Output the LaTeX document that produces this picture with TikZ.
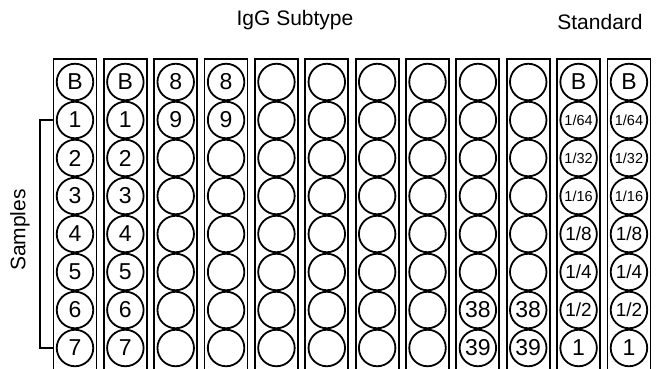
\documentclass[tikz,border=0pt]{standalone}
\usepackage{fontspec}
\setmainfont{Liberation Sans}
\newcommand\fr[2]{#1/#2}
\begin{document}
\begin{tikzpicture}[x=1pt,y=-1pt,
  well/.style={circle,draw,line width=1.8pt,minimum size=36.5pt,inner sep=0pt},
  lane/.style={rectangle,draw,line width=1.8pt,minimum width=43pt,minimum height=340pt,anchor=north,inner sep=0pt},
  title/.style={font=\fontsize{21}{24}\selectfont,anchor=base},
  bracket/.style={line width=1.8pt}]
\useasboundingbox (0,0) rectangle (657,368);
\clip (0,0) rectangle (657,368);
% lanes
\foreach \i in {1,...,12}
  \node[lane] (r\i) at ({75+50.36*(\i-1)},58) {};
% sample columns
\foreach \i in {1,2}
  \foreach \t [count=\j from 0] in {B,1,2,3,4,5,6,7}
    \node[well,font=\fontsize{23}{24}\selectfont] (c-\i-\j) at ({75+50.36*(\i-1)},{82+38*\j}) {\t};
% IgG subtype columns
\foreach \i in {3,...,10}
  \foreach \j in {0,...,7}
    \node[well] (c-\i-\j) at ({75+50.36*(\i-1)},{82+38*\j}) {};
\foreach \i in {3,4} {
  \node[font=\fontsize{23}{24}\selectfont] (t-\i-0) at (c-\i-0) {8};
  \node[font=\fontsize{23}{24}\selectfont] (t-\i-1) at (c-\i-1) {9};
}
\foreach \i in {9,10} {
  \node[font=\fontsize{23}{24}\selectfont] (t-\i-6) at (c-\i-6) {38};
  \node[font=\fontsize{23}{24}\selectfont] (t-\i-7) at (c-\i-7) {39};
}
% standard columns
\foreach \i in {11,12}
  \foreach \t/\fs [count=\j from 0] in {B/23,\fr{1}{64}/14.5,\fr{1}{32}/14.5,\fr{1}{16}/14.5,\fr{1}{8}/19,\fr{1}{4}/19,\fr{1}{2}/19,1/23}
    \node[well,font=\fontsize{\fs}{\fs}\selectfont] (c-\i-\j) at ({75+50.36*(\i-1)},{82+38*\j}) {\t};
% bracket
\draw[bracket] (r1.west |- c-1-1) -- ++(-13,0) |- (r1.west |- c-1-7);
% labels
\node[rotate=90,font=\fontsize{21}{24}\selectfont] (samples) at (20,230) {Samples};
\node[title] (igg) at (295,25) {IgG Subtype};
\node[title] (std) at (600,29.3) {Standard};
\end{tikzpicture}
\end{document}
